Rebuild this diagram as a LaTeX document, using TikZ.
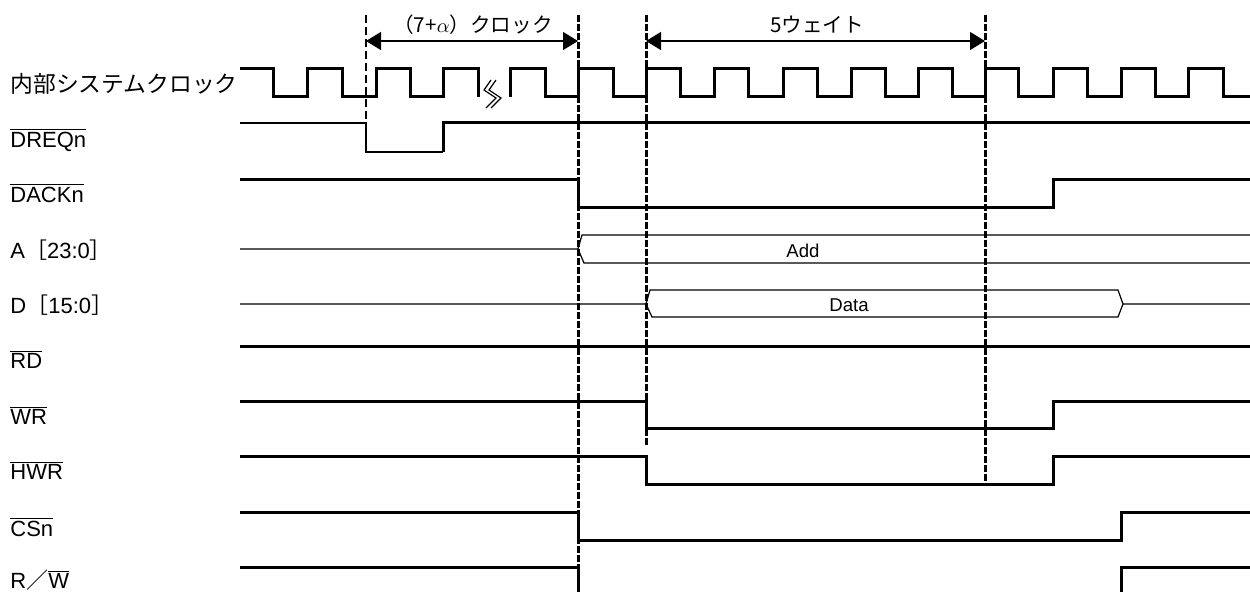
\documentclass[tikz,border=0pt]{standalone}
\usepackage{fontspec}
\setmainfont{Liberation Sans}
\newfontfamily\jpfont{Noto Sans CJK JP}
\usetikzlibrary{arrows.meta}
\newcommand{\ovl}[1]{$\overline{\mbox{#1}}$}

\begin{document}
\begin{tikzpicture}[x=0.5pt, y=-0.5pt,
    sig/.style={line width=1.5pt},
    thinsig/.style={line width=0.6pt},
    guide/.style={line width=1.5pt, dash pattern=on 3.5pt off 1pt},
    thinguide/.style={line width=0.7pt, dash pattern=on 4pt off 2pt},
    span/.style={line width=0.6pt, {Triangle[length=7.5pt,width=9pt]}-{Triangle[length=7.5pt,width=9pt]}},
    lbl/.style={anchor=base west, inner sep=0pt, font=\fontsize{11}{13}\selectfont},
    txt/.style={inner sep=0pt, font=\fontsize{9.3}{11}\selectfont}]

\useasboundingbox (0,0) rectangle (1250,592);

% guide lines
\draw[thinguide] (366,15) -- (366,123);
\draw[guide] (578,15) -- (578,592);
\draw[guide] (646,15) -- (646,445);
\draw[guide] (985,15) -- (985,485);

% spans
\coordinate (t0) at (366,41);
\coordinate (t1) at (578,41);
\coordinate (t2) at (646,41);
\coordinate (t3) at (985,41);
\draw[span] (t0) -- (t1);
\draw[span] (t2) -- (t3);
\node[inner sep=0pt, font=\jpfont\fontsize{10.3}{12}\selectfont] (clkcount) at (473,25) {（7+$\alpha$）クロック};
\node[inner sep=0pt, font=\jpfont\fontsize{10.3}{12}\selectfont] (wait) at (817,25) {5ウェイト};

% signal names
\node[lbl, anchor=west, font=\jpfont\fontsize{11.4}{13}\selectfont] (clk) at (10,84) {内部システムクロック};
\node[lbl] (dreq) at (10,148) {\ovl{DREQn}};
\node[lbl] (dack) at (10,203) {\ovl{DACKn}};
\node[lbl] (addr) at (10,259) {A{\jpfont［}23:0{\jpfont］}};
\node[lbl] (data) at (10,314) {D{\jpfont［}15:0{\jpfont］}};
\node[lbl] (rd) at (10,369) {\ovl{RD}};
\node[lbl] (wr) at (10,425) {\ovl{WR}};
\node[lbl] (hwr) at (10,480) {\ovl{HWR}};
\node[lbl] (cs) at (10,537) {\ovl{CSn}};
\node[lbl] (rw) at (10,589) {R{\jpfont ／}\ovl{W}};

% clock
\draw[sig] (240,69) -- (273,69) |- (307,97) |- (342,69) |- (376,97) |- (410,69)
    |- (443,97) |- (478,69) -- (478,97);
\draw[sig] (510,97) |- (545,69) |- (578,97) |- (613,69) |- (646,97) |- (680,69)
    |- (714,97) |- (748,69) |- (783,97) |- (817,69) |- (851,97) |- (885,69)
    |- (918,97) |- (952,69) |- (985,97) |- (1018,69) |- (1053,97) |- (1087,69)
    |- (1121,97) |- (1155,69) |- (1188,97) |- (1223,69) |- (1250,97);
\draw[thinsig] (491,80) -- (484,90) -- (496,98) -- (486,108);
\draw[thinsig] (496,80) -- (489,90) -- (501,98) -- (491,108);

% DREQn
\draw[thinsig] (240,123) -| (366,152) -- (443,152);
\draw[sig] (443,152) |- (1250,123);

% DACKn
\draw[sig] (240,180) -| (578,208) -| (1053,180) -- (1250,180);

% A[23:0]
\draw[thinsig] (240,249) -- (578,249) -- (582,235) -- (1250,235);
\draw[thinsig] (578,249) -- (584,263) -- (1250,263);
\node[txt] (add) at (803,251) {Add};

% D[15:0]
\draw[thinsig] (240,304) -- (646,304) -- (650,290) -- (1118,290) -- (1123,304) -- (1250,304);
\draw[thinsig] (646,304) -- (652,317) -- (1118,317) -- (1123,304);
\node[txt] (dat) at (849,305) {Data};

% RD
\draw[sig] (240,347) -- (1250,347);

% WR, HWR
\draw[sig] (240,402) -| (646,429) -| (1053,402) -- (1250,402);
\draw[sig] (240,457) -| (646,485) -| (1053,457) -- (1250,457);

% CSn, R/W
\draw[sig] (240,513) -| (578,541) -| (1121,513) -- (1250,513);
\draw[sig] (240,568) -| (578,600);
\draw[sig] (1121,600) |- (1250,568);

\end{tikzpicture}
\end{document}
